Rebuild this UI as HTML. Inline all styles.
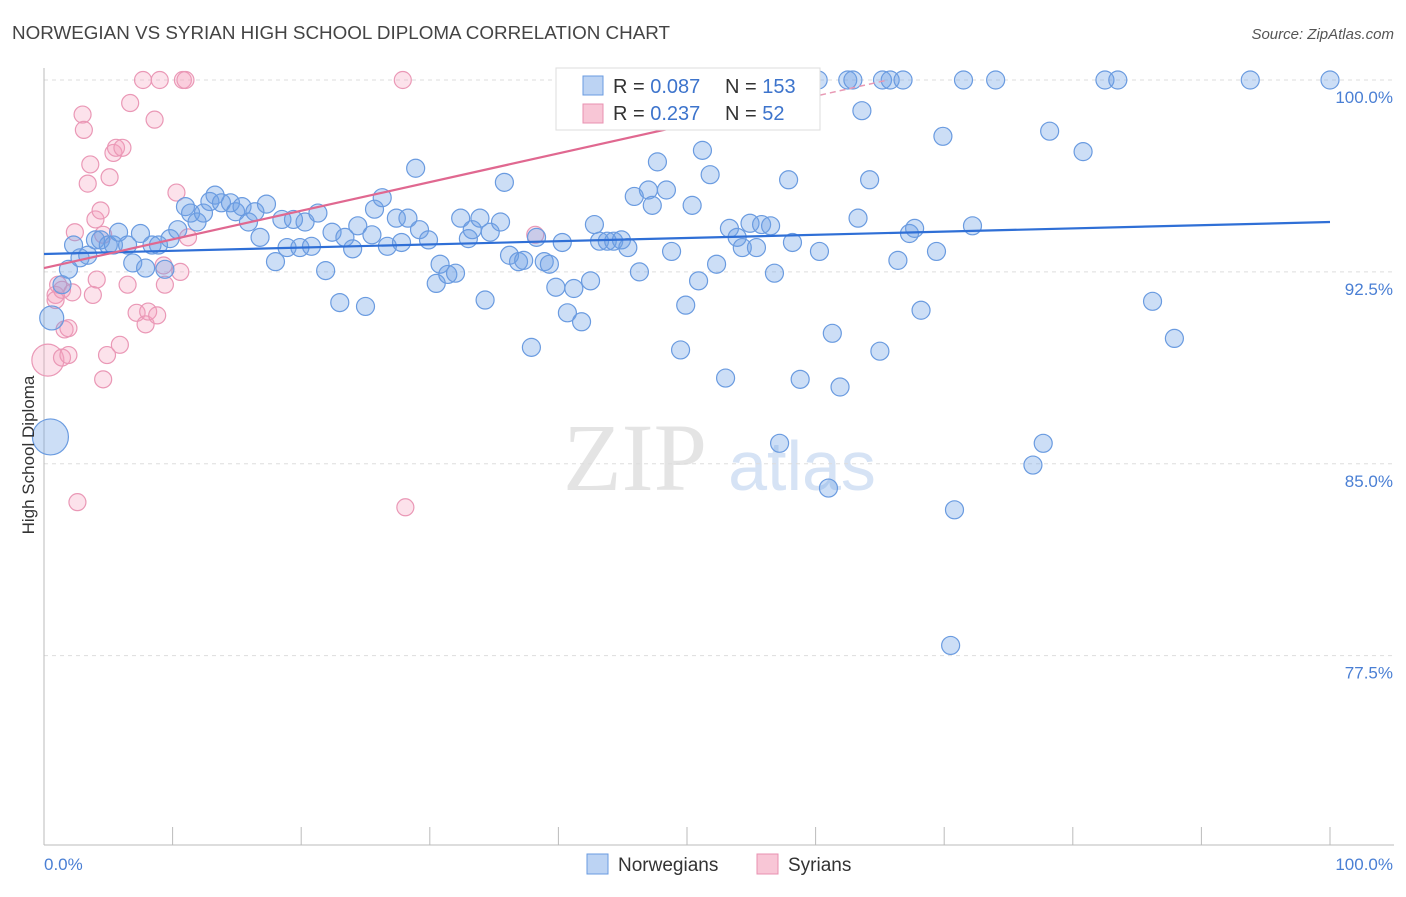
<!DOCTYPE html>
<html><head><meta charset="utf-8"><style>
body{margin:0;background:#fff;font-family:"Liberation Sans",sans-serif;}
</style></head><body>
<svg id="chart" width="1406" height="892" xmlns="http://www.w3.org/2000/svg">
<text x="12" y="39" font-size="18" fill="#444" textLength="658" lengthAdjust="spacingAndGlyphs">NORWEGIAN VS SYRIAN HIGH SCHOOL DIPLOMA CORRELATION CHART</text>
<text x="1394" y="39" font-size="15" fill="#555" font-style="italic" text-anchor="end">Source: ZipAtlas.com</text>
<g>
<text x="635" y="490" font-size="96" fill="#e4e4e4" font-family="Liberation Serif" text-anchor="middle">ZIP</text>
<text x="802" y="490" font-size="70" fill="#d6e3f5" text-anchor="middle">atlas</text>
</g>
<g id="grid"></g>
<g id="axes"></g>
<g id="points"></g>
<g id="trends"></g>
<text transform="translate(34,455) rotate(-90)" font-size="17" fill="#333" text-anchor="middle">High School Diploma</text>
<g>
<rect x="556" y="68" width="264" height="62" fill="#fff" stroke="#ddd"/>
<rect x="583" y="76" width="20" height="19" fill="#bcd3f3" stroke="#6a9be0"/>
<rect x="583" y="104" width="20" height="19" fill="#f8c6d6" stroke="#e890b0"/>
<text x="613" y="93" font-size="20" fill="#333">R = <tspan fill="#3d74cc">0.087</tspan></text>
<text x="725" y="93" font-size="20" fill="#333">N = <tspan fill="#3d74cc">153</tspan></text>
<text x="613" y="120" font-size="20" fill="#333">R = <tspan fill="#3d74cc">0.237</tspan></text>
<text x="725" y="120" font-size="20" fill="#333">N = <tspan fill="#3d74cc"> 52</tspan></text>
</g>
<g>
<rect x="587" y="854" width="21" height="20" fill="#bcd3f3" stroke="#6a9be0"/>
<text x="618" y="871" font-size="19" fill="#333">Norwegians</text>
<rect x="757" y="854" width="21" height="20" fill="#f8c6d6" stroke="#e890b0"/>
<text x="788" y="871" font-size="19" fill="#333">Syrians</text>
</g>
</svg>
<script>
const yTicks=[100,92.5,85,77.5];
const yTickLabels=["100.0%","92.5%","85.0%","77.5%"];
const blueX=[0.5,0.6,1.9,1.4,2.3,2.8,3.4,4.0,4.4,5.0,5.4,5.8,6.5,6.9,7.5,7.9,8.4,8.9,9.4,9.8,10.4,11.0,11.4,11.9,12.4,12.9,13.3,13.8,14.5,14.9,15.4,15.9,16.4,16.8,17.3,18.0,18.5,18.9,19.4,19.9,20.3,20.8,21.3,21.9,22.4,23.0,23.4,24.0,24.4,25.0,25.5,25.7,26.3,26.7,27.4,27.8,28.3,28.9,29.2,29.9,30.5,30.8,31.4,32.0,32.4,33.0,33.3,33.9,34.3,34.7,35.5,35.8,36.2,36.9,37.3,37.9,38.3,38.9,39.3,39.8,40.3,40.7,41.2,41.8,42.5,42.8,43.2,43.8,44.3,44.9,45.4,45.9,46.3,47.0,47.3,47.7,48.4,48.8,49.5,49.9,50.4,50.9,51.2,51.8,52.3,53.0,53.3,53.9,54.3,54.9,55.4,55.8,56.5,56.8,57.2,57.9,58.2,58.8,60.3,61.0,61.3,61.9,63.3,63.6,64.2,65.0,66.4,67.3,67.7,68.2,69.4,69.9,70.8,70.5,72.2,76.9,77.7,78.2,80.8,86.2,87.9,60.2,62.5,62.9,65.2,65.8,66.8,71.5,74.0,82.5,83.5,93.8,100];
const blueY=[86.05,90.7,92.6,92.0,93.55,93.05,93.15,93.75,93.75,93.55,93.55,94.05,93.55,92.85,94.0,92.65,93.55,93.55,92.6,93.8,94.15,95.05,94.8,94.45,94.8,95.25,95.5,95.2,95.2,94.85,95.05,94.45,94.85,93.85,95.15,92.9,94.55,93.45,94.55,93.45,94.45,93.5,94.8,92.55,94.05,91.3,93.85,93.4,94.3,91.15,93.95,94.95,95.4,93.5,94.6,93.65,94.6,96.55,94.15,93.75,92.05,92.8,92.4,92.45,94.6,93.8,94.15,94.6,91.4,94.05,94.45,96.0,93.15,92.9,92.95,89.55,93.85,92.9,92.8,91.9,93.65,90.9,91.85,90.55,92.15,94.35,93.7,93.7,93.7,93.75,93.45,95.45,92.5,95.7,95.1,96.8,95.7,93.3,89.45,91.2,95.1,92.15,97.25,96.3,92.8,88.35,94.2,93.85,93.45,94.4,93.45,94.35,94.3,92.45,85.8,96.1,93.65,88.3,93.3,84.05,90.1,88.0,94.6,98.8,96.1,89.4,92.95,94.0,94.2,91.0,93.3,97.8,83.2,77.9,94.3,84.95,85.8,98.0,97.2,91.35,89.9,100,100,100,100,100,100,100,100,100,100,100,100];
const blueBig=[18,12];
const pinkX=[0.3,0.9,0.9,1.1,1.4,1.6,1.9,1.4,1.9,2.2,2.4,2.6,3.0,3.1,3.4,3.6,3.8,4.0,4.1,4.4,4.6,4.6,4.9,5.1,5.4,5.6,5.9,6.1,6.5,6.7,7.2,7.7,7.9,8.1,8.6,8.8,9.0,9.3,9.4,10.3,10.6,10.8,11.0,11.2,27.9,28.1,38.2,47.0];
const pinkY=[89.05,91.6,91.4,92.0,91.8,90.25,90.3,89.15,89.25,91.7,94.05,83.5,98.65,98.05,95.95,96.7,91.6,94.55,92.2,94.9,93.95,88.3,89.25,96.2,97.15,97.35,89.65,97.35,92.0,99.1,90.9,100,90.45,90.95,98.45,90.8,100,92.75,92.0,95.6,92.5,100,100,93.85,100,83.3,93.95,100];
const blueTrend=[93.2,94.45];
const pinkTrend=[92.65,0.112];
const X0=44,X1=1330,Y0=80,Ymin=70.1,Ybot=845;
const sx=v=>X0+(X1-X0)*v/100;
const sy=v=>Y0+(100-v)*(Ybot-Y0)/(100-Ymin);
const NS="http://www.w3.org/2000/svg";
function mk(tag,attrs,parent){const e=document.createElementNS(NS,tag);for(const k in attrs)e.setAttribute(k,attrs[k]);document.getElementById(parent).appendChild(e);return e;}
yTicks.forEach((t,i)=>{
 const l=mk('line',{x1:X0,x2:1394,y1:sy(t),y2:sy(t),stroke:'#ddd','stroke-dasharray':'4,4'},'grid');
 
 
 const tx=mk('text',{x:1393,y:sy(t)+23,'font-size':17,fill:'#4a7fd4','text-anchor':'end'},'grid');
 tx.textContent=yTickLabels[i];
 
 
});
let ax=mk('line',{x1:X0,x2:X0,y1:68,y2:Ybot,stroke:'#bbb'},'axes');


ax=mk('line',{x1:X0,x2:1394,y1:Ybot,y2:Ybot,stroke:'#bbb'},'axes');


for(let t=0;t<=100;t+=10){
 const k=mk('line',{x1:sx(t),x2:sx(t),y1:Ybot,y2:Ybot-18,stroke:'#bbb'},'axes');
 
 
}
let xl=mk('text',{x:44,y:870,'font-size':17,fill:'#4a7fd4'},'axes');xl.textContent='0.0%';


xl=mk('text',{x:1393,y:870,'font-size':17,fill:'#4a7fd4','text-anchor':'end'},'axes');xl.textContent='100.0%';


pinkX.forEach((x,i)=>{
 const c=mk('circle',{cx:sx(x),cy:sy(pinkY[i]),r:i===0?16:8.5,fill:'rgba(244,160,190,0.3)',stroke:'#ea98b6','stroke-width':1.2},'points');
 
 
});
blueX.forEach((x,i)=>{
 const r=i<blueBig.length?blueBig[i]:9;
 const c=mk('circle',{cx:sx(x),cy:sy(blueY[i]),r:r,fill:'rgba(110,160,230,0.35)',stroke:'#6a9be0','stroke-width':1.2},'points');
 
 
});
let tl=mk('line',{x1:sx(0),y1:sy(blueTrend[0]),x2:sx(100),y2:sy(blueTrend[1]),stroke:'#2f6fd6','stroke-width':2.2},'trends');


const pf=x=>pinkTrend[0]+pinkTrend[1]*x;
const xEnd=(100-pinkTrend[0])/pinkTrend[1];
tl=mk('line',{x1:sx(0),y1:sy(pf(0)),x2:sx(52),y2:sy(pf(52)),stroke:'#e06890','stroke-width':2.2},'trends');


tl=mk('line',{x1:sx(52),y1:sy(pf(52)),x2:sx(xEnd),y2:sy(100),stroke:'#e899b4','stroke-width':1.5,'stroke-dasharray':'6,4'},'trends');


</script>
</body></html>
